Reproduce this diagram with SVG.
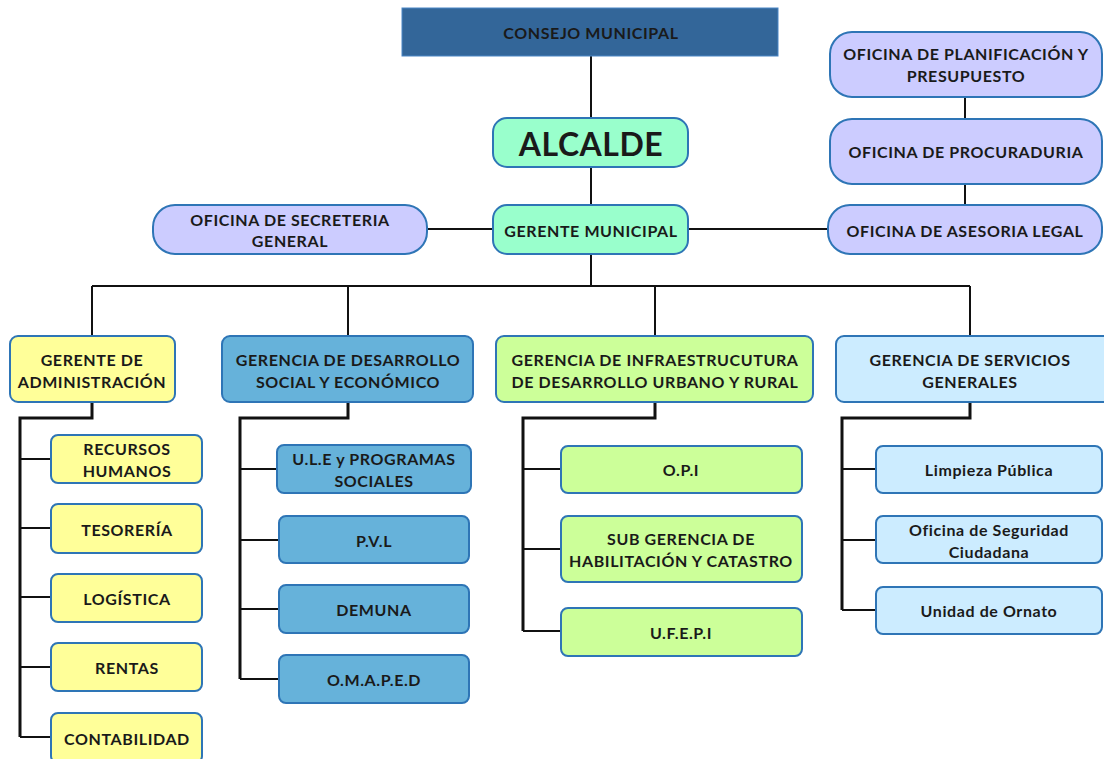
<svg xmlns="http://www.w3.org/2000/svg" width="1104" height="759" viewBox="0 0 1104 759">
<style>
text{font-family:Lato,"Open Sans","Liberation Sans",sans-serif;font-weight:bold;fill:#1a1a1a;text-anchor:middle;dominant-baseline:central;font-size:16px;letter-spacing:0.6px}
.b{stroke:#2E75B6;stroke-width:2}
.top{fill:#336699;stroke:#4A86C5;stroke-width:1}
.mint{fill:#99FFCC}
.lav{fill:#CCCCFF}
.yel{fill:#FFFF99}
.blu{fill:#66B2DA}
.grn{fill:#CCFF99}
.sky{fill:#CCECFF}
.c{fill:none;stroke:#111;stroke-width:2}
.t{fill:none;stroke:#111;stroke-width:3}
</style>
<g id="connectors">
<path class="c" d="M591 56V118M591 167V205M427 229H493M688 229H828M965 97V119M965 184V205M591 254V286M92 286H970M92 286V336M348 286V336M655 286V336M970 286V336"/>
<path class="t" d="M92 402V418H20V737M348 402V418H240V679M655 402V418H523V631M970 402V418H842V610"/>
<path class="c" d="M20 459H51M20 528H51M20 597H51M20 667H51M20 737H51M240 469H277M240 540H279M240 609H279M240 679H279M523 469H561M523 549H561M523 631H561M842 469H876M842 540H876M842 610H876"/>
</g>
<g id="consejo"><rect class="top" x="402" y="8" width="376" height="48"/><text x="591" y="32">CONSEJO MUNICIPAL</text></g>
<g id="alcalde"><rect class="b mint" x="493" y="118" width="195" height="49" rx="14"/><text x="591" y="143" style="font-size:32px;letter-spacing:0.5px">ALCALDE</text></g>
<g id="gerente-municipal"><rect class="b mint" x="493" y="205" width="195" height="49" rx="14"/><text x="591" y="230">GERENTE MUNICIPAL</text></g>
<g id="secretaria"><rect class="b lav" x="153" y="205" width="274" height="49" rx="22"/><text x="290" y="219">OFICINA DE SECRETERIA</text><text x="290" y="240">GENERAL</text></g>
<g id="asesoria"><rect class="b lav" x="828" y="205" width="274" height="49" rx="22"/><text x="965" y="230">OFICINA DE ASESORIA LEGAL</text></g>
<g id="procuraduria"><rect class="b lav" x="830" y="119" width="272" height="65" rx="22"/><text x="966" y="151">OFICINA DE PROCURADURIA</text></g>
<g id="planificacion"><rect class="b lav" x="830" y="32" width="272" height="65" rx="22"/><text x="966" y="53">OFICINA DE PLANIFICACIÓN Y</text><text x="966" y="75">PRESUPUESTO</text></g>
<g id="administracion"><rect class="b yel" x="10" y="336" width="165" height="66" rx="8"/><text x="92" y="359">GERENTE DE</text><text x="92" y="381">ADMINISTRACIÓN</text></g>
<g id="desarrollo-social"><rect class="b blu" x="222" y="336" width="251" height="66" rx="8"/><text x="348" y="359">GERENCIA DE DESARROLLO</text><text x="348" y="381">SOCIAL Y ECONÓMICO</text></g>
<g id="infraestructura"><rect class="b grn" x="496" y="336" width="317" height="66" rx="8"/><text x="655" y="359">GERENCIA DE INFRAESTRUCUTURA</text><text x="655" y="381">DE DESARROLLO URBANO Y RURAL</text></g>
<g id="servicios"><rect class="b sky" x="836" y="336" width="276" height="66" rx="8"/><text x="970" y="359">GERENCIA DE SERVICIOS</text><text x="970" y="381">GENERALES</text></g>
<g id="rrhh"><rect class="b yel" x="51" y="435" width="151" height="48" rx="7"/><text x="127" y="448">RECURSOS</text><text x="127" y="470">HUMANOS</text></g>
<g id="tesoreria"><rect class="b yel" x="51" y="504" width="151" height="49" rx="7"/><text x="127" y="529">TESORERÍA</text></g>
<g id="logistica"><rect class="b yel" x="51" y="574" width="151" height="48" rx="7"/><text x="127" y="598">LOGÍSTICA</text></g>
<g id="rentas"><rect class="b yel" x="51" y="643" width="151" height="48" rx="7"/><text x="127" y="667">RENTAS</text></g>
<g id="contabilidad"><rect class="b yel" x="51" y="713" width="151" height="50" rx="7"/><text x="127" y="738">CONTABILIDAD</text></g>
<g id="ule"><rect class="b blu" x="277" y="445" width="194" height="48" rx="7"/><text x="374" y="458">U.L.E y PROGRAMAS</text><text x="374" y="480">SOCIALES</text></g>
<g id="pvl"><rect class="b blu" x="279" y="516" width="190" height="47" rx="7"/><text x="374" y="540">P.V.L</text></g>
<g id="demuna"><rect class="b blu" x="279" y="585" width="190" height="48" rx="7"/><text x="374" y="609">DEMUNA</text></g>
<g id="omaped"><rect class="b blu" x="279" y="655" width="190" height="48" rx="7"/><text x="374" y="679">O.M.A.P.E.D</text></g>
<g id="opi"><rect class="b grn" x="561" y="446" width="241" height="47" rx="7"/><text x="681" y="469">O.P.I</text></g>
<g id="habilitacion"><rect class="b grn" x="561" y="516" width="241" height="66" rx="7"/><text x="681" y="538">SUB GERENCIA DE</text><text x="681" y="560">HABILITACIÓN Y CATASTRO</text></g>
<g id="ufepi"><rect class="b grn" x="561" y="608" width="241" height="48" rx="7"/><text x="681" y="632">U.F.E.P.I</text></g>
<g id="limpieza"><rect class="b sky" x="876" y="446" width="226" height="47" rx="7"/><text x="989" y="469">Limpieza Pública</text></g>
<g id="seguridad"><rect class="b sky" x="876" y="516" width="226" height="47" rx="7"/><text x="989" y="529">Oficina de Seguridad</text><text x="989" y="551">Ciudadana</text></g>
<g id="ornato"><rect class="b sky" x="876" y="587" width="226" height="47" rx="7"/><text x="989" y="610">Unidad de Ornato</text></g>
</svg>
